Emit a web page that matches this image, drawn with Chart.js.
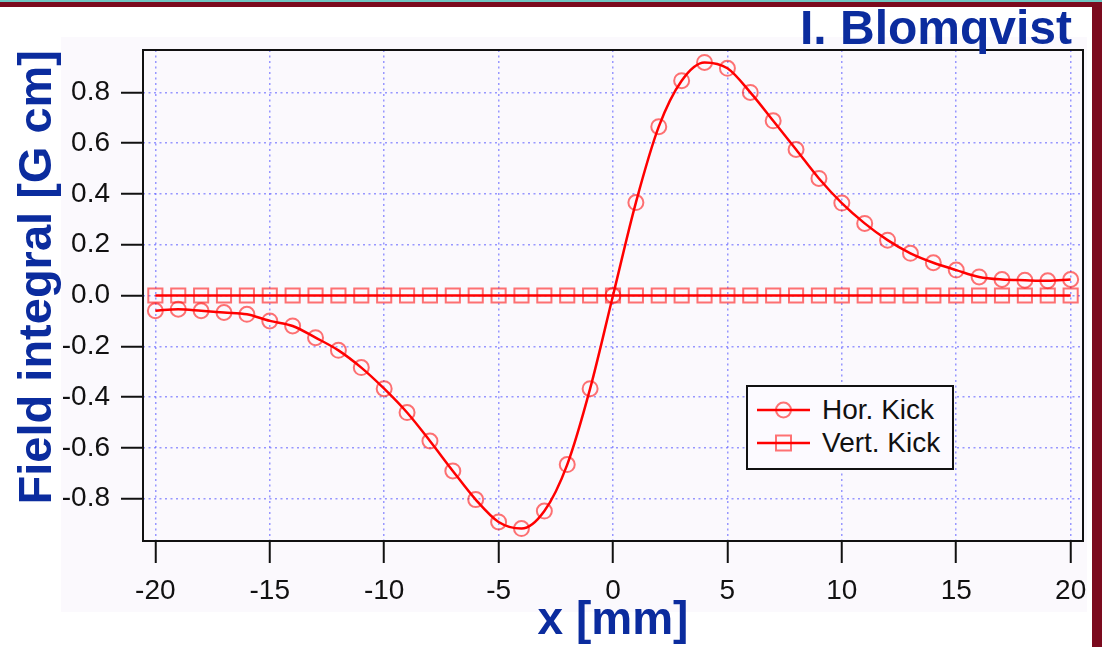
<!DOCTYPE html>
<html>
<head>
<meta charset="utf-8">
<script src="https://cdn.jsdelivr.net/npm/chart.js@4"></script>
<style>
  html, body { margin: 0; padding: 0; background: #ffffff; }
  body { width: 1102px; height: 647px; position: relative; overflow: hidden; font-family: "Liberation Sans", Arial, sans-serif; }
  #franja-teal { position: absolute; left: 0; top: 0; width: 1102px; height: 2px; background: #6ec7c2; }
  #franja-roja { position: absolute; left: 0; top: 2px; width: 1098px; height: 5px; background: #7b0a1e; }
  #borde-der { position: absolute; left: 1092px; top: 2px; width: 10px; height: 645px; background: #7b0a1e; }
  #panel { position: absolute; left: 61px; top: 37px; width: 1026px; height: 575px; background: #fbf9fd; }
  #autor { position: absolute; right: 30px; top: 4px; font: bold 48px/48px "Liberation Sans", Arial, sans-serif; color: #0b2c9e; white-space: nowrap; }
  #grafico { position: absolute; left: 0; top: 0; }
  #leyenda { position: absolute; left: 746px; top: 385px; width: 208px; height: 85px; box-sizing: border-box;
    border: 2px solid #111; background: #fcfaff; padding: 6px 0 0 9px; font: 28px "Liberation Sans", Arial, sans-serif; color: #111; }
  .fila { display: flex; align-items: center; height: 33px; white-space: nowrap; }
  .fila svg { margin-right: 12px; }
</style>
</head>
<body>
<div id="franja-teal"></div>
<div id="franja-roja"></div>
<div id="borde-der"></div>
<div id="panel"></div>
<canvas id="grafico" width="1102" height="647"></canvas>
<div id="autor">I. Blomqvist</div>
<div id="leyenda"></div>
<script>
// datos
const posiciones = [-20, -19, -18, -17, -16, -15, -14, -13, -12, -11, -10, -9, -8, -7, -6, -5, -4, -3, -2, -1, 0,
  1, 2, 3, 4, 5, 6, 7, 8, 9, 10, 11, 12, 13, 14, 15, 16, 17, 18, 19, 20];
const horKick = [-0.060, -0.054, -0.060, -0.067, -0.074, -0.100, -0.120, -0.166, -0.216, -0.284, -0.367,
  -0.461, -0.573, -0.691, -0.804, -0.892, -0.918, -0.849, -0.666, -0.367, 0.000,
  0.366, 0.665, 0.846, 0.918, 0.895, 0.800, 0.688, 0.575, 0.461, 0.364,
  0.284, 0.218, 0.166, 0.129, 0.100, 0.073, 0.063, 0.060, 0.058, 0.063];
const vertKick = [0, 0, 0, 0, 0, 0, 0, 0, 0, 0, 0, 0, 0, 0, 0, 0, 0, 0, 0, 0, 0,
  0, 0, 0, 0, 0, 0, 0, 0, 0, 0, 0, 0, 0, 0, 0, 0, 0, 0, 0, 0];
const ticksX = [-20, -15, -10, -5, 0, 5, 10, 15, 20];
const ticksY = [-0.8, -0.6, -0.4, -0.2, 0.0, 0.2, 0.4, 0.6, 0.8];

const rojo = "#ff0000";
const rojoMarcador = "rgba(255, 0, 0, 0.55)";
const azulTitulo = "#0b2c9e";
const fuente = "'Liberation Sans', Arial, sans-serif";

const puntos = (valores) => posiciones.map((x, i) => ({ x: x, y: valores[i] }));

// marco negro alrededor del area del grafico
const marco = {
  id: "marco",
  afterDraw(chart) {
    const { ctx, chartArea: a } = chart;
    ctx.save();
    ctx.strokeStyle = "#111";
    ctx.lineWidth = 2;
    ctx.strokeRect(a.left, a.top, a.right - a.left, a.bottom - a.top);
    ctx.restore();
  },
};

const gridComun = {
  color: "rgba(110, 110, 255, 0.7)",
  lineWidth: 1.5,
  tickLength: 22,
  tickColor: "#111",
  tickWidth: 2,
  tickBorderDash: [],
};

const ctx = document.getElementById("grafico");
const myChart = new Chart(ctx, {
  type: "scatter",
  data: {
    datasets: [
      {
        label: "Hor. Kick",
        data: puntos(horKick),
        showLine: true,
        borderColor: rojo,
        borderWidth: 2.5,
        cubicInterpolationMode: "monotone",
        pointStyle: "circle",
        pointRadius: 7.5,
        pointBorderWidth: 2,
        pointBorderColor: rojoMarcador,
        pointBackgroundColor: "rgba(0, 0, 0, 0)",
      },
      {
        label: "Vert. Kick",
        data: puntos(vertKick),
        showLine: true,
        borderColor: rojo,
        borderWidth: 2.5,
        pointStyle: "rect",
        pointRadius: 10,
        pointBorderWidth: 2,
        pointBorderColor: rojoMarcador,
        pointBackgroundColor: "rgba(0, 0, 0, 0)",
      },
    ],
  },
  options: {
    responsive: false,
    animation: false,
    devicePixelRatio: 1,
    layout: { padding: { left: 0, top: 50, right: 19, bottom: 0 } },
    plugins: {
      legend: { display: false },
      tooltip: { enabled: false },
    },
    scales: {
      x: {
        type: "linear",
        min: -20.54,
        max: 20.54,
        afterBuildTicks: (s) => { s.ticks = ticksX.map((v) => ({ value: v })); },
        afterFit: (s) => { s.height = 106; },
        grid: gridComun,
        border: { display: false, dash: [2, 3.5] },
        ticks: {
          padding: 11,
          color: "#111",
          font: { family: fuente, size: 28 },
          maxRotation: 0,
          callback: (v) => String(v),
        },
        title: {
          display: true,
          text: "x [mm]",
          color: azulTitulo,
          font: { family: fuente, size: 46, weight: "bold", lineHeight: 1.1 },
          padding: { top: 0, bottom: 0 },
        },
      },
      y: {
        type: "linear",
        min: -0.967,
        max: 0.967,
        afterBuildTicks: (s) => { s.ticks = ticksY.map((v) => ({ value: v })); },
        afterFit: (s) => { s.width = 143; },
        grid: gridComun,
        border: { display: false, dash: [2, 3.5] },
        ticks: {
          padding: 11,
          color: "#111",
          font: { family: fuente, size: 28 },
          callback: (v) => Number(v).toFixed(1),
        },
        title: {
          display: true,
          text: "Field integral [G cm]",
          align: "end",
          color: azulTitulo,
          font: { family: fuente, size: 47, weight: "bold", lineHeight: 1.1 },
          padding: { top: 12, bottom: 0 },
        },
      },
    },
  },
  plugins: [marco],
});

// leyenda dentro del grafico, a partir de los datasets
const crearLeyenda = () => {
  const caja = document.getElementById("leyenda");
  myChart.data.datasets.forEach((ds) => {
    const marcador = ds.pointStyle === "rect"
      ? `<rect x="19" y="2.5" width="15" height="15" fill="none" stroke="${ds.pointBorderColor}" stroke-width="2"/>`
      : `<circle cx="26.5" cy="10" r="7.5" fill="none" stroke="${ds.pointBorderColor}" stroke-width="2"/>`;
    const fila = document.createElement("div");
    fila.className = "fila";
    fila.innerHTML = `<svg width="53" height="20"><line x1="0" y1="10" x2="53" y2="10" stroke="${ds.borderColor}" stroke-width="2.5"/>${marcador}</svg><span>${ds.label}</span>`;
    caja.appendChild(fila);
  });
};
crearLeyenda();
</script>
</body>
</html>
